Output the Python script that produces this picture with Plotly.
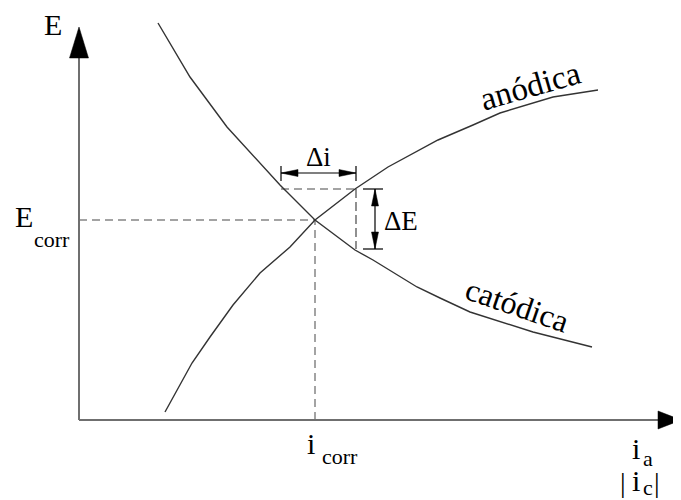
import plotly.graph_objects as go

# Diagrama de Evans: curvas anódica y catódica (unidades del dibujo, origen en el cruce de ejes)
anodica_x = [86, 113, 131, 154, 181, 211, 236, 276, 309, 359, 394, 421, 474, 519]
anodica_y = [8, 57, 83, 115, 147, 173, 200, 231, 253, 280, 295, 307, 323, 330]

catodica_x = [79, 111, 148, 188, 201, 236, 276, 294, 338, 361, 391, 454, 513]
catodica_y = [397, 343, 293, 250, 235, 200, 170, 160, 133, 122, 108, 88, 73]

i_corr = 236
E_corr = 200
di_x = [202, 277]   # extremos de delta i
dE_y = [171, 231]   # extremos de delta E
di_flecha_y = 247
dE_flecha_x = 296

eje_y_tope = 393
eje_x_tope = 602

FUENTE = "Liberation Serif, Times New Roman, serif"
GRIS_EJE = "#6f6f6f"
GRIS_DASH = "#858585"
CURVA = "#333333"


def triangulo(tx, ty, dx, dy, largo, medio):
    # punta en (tx, ty), apuntando en la dirección (dx, dy)
    bx, by = tx - dx * largo, ty - dy * largo
    px, py = -dy * medio, dx * medio
    return [tx, bx + px, bx - px, tx], [ty, by + py, by - py, ty]


fig = go.Figure()

def linea(xs, ys, color, ancho, dash=None):
    fig.add_trace(go.Scatter(x=xs, y=ys, mode="lines", hoverinfo="skip",
                             line=dict(color=color, width=ancho, dash=dash)))

def flecha(tx, ty, dx, dy, largo, medio):
    xs, ys = triangulo(tx, ty, dx, dy, largo, medio)
    fig.add_trace(go.Scatter(x=xs, y=ys, mode="lines", fill="toself", hoverinfo="skip",
                             fillcolor="black", line=dict(color="black", width=0.5)))

# lineas de trazos
linea([0, i_corr], [E_corr, E_corr], GRIS_DASH, 1.5, "8px,5px")
linea([i_corr, i_corr], [0, E_corr], GRIS_DASH, 1.5, "8px,5px")
linea(di_x, [dE_y[1], dE_y[1]], GRIS_DASH, 1.5, "8px,5px")
linea([di_x[1], di_x[1]], dE_y[::-1], "#555555", 1.3, "9px,4px")

# curvas
linea(anodica_x, anodica_y, CURVA, 1.4)
linea(catodica_x, catodica_y, CURVA, 1.4)

# ejes
linea([0, 0], [0, eje_y_tope - 31], GRIS_EJE, 2)
linea([0, eje_x_tope - 23], [0, 0], GRIS_EJE, 2)
flecha(0, eje_y_tope, 0, 1, 31, 9.5)
flecha(eje_x_tope, 0, 1, 0, 23, 9)

# delta i
linea(di_x, [di_flecha_y, di_flecha_y], "black", 1.2)
for xx in di_x:
    linea([xx, xx], [di_flecha_y - 8, di_flecha_y + 7], "black", 1.2)
flecha(di_x[0], di_flecha_y, -1, 0, 17, 3.5)
flecha(di_x[1], di_flecha_y, 1, 0, 17, 3.5)

# delta E
linea([dE_flecha_x, dE_flecha_x], dE_y, "black", 1.2)
for yy in dE_y:
    linea([dE_flecha_x - 12, dE_flecha_x + 8], [yy, yy], "black", 1.2)
flecha(dE_flecha_x, dE_y[1], 0, 1, 17, 3.5)
flecha(dE_flecha_x, dE_y[0], 0, -1, 17, 3.5)

textos = [
    ("E", -26, 396, 30, 0),
    ("E", -55, 204, 30, 0),
    ("corr", -27, 181, 22, 0),
    ("i", 232, -23, 30, 0),
    ("corr", 261, -36, 22, 0),
    ("i", 557, -28, 30, 0),
    ("a", 569, -38, 22, 0),
    ("|", 544, -62, 28, 0),
    ("i", 557, -60, 30, 0),
    ("c", 569, -67, 22, 0),
    ("|", 578, -62, 28, 0),
    ("\u0394i", 239, 263, 27, 0),
    ("\u0394E", 322, 199, 27, 0),
    ("anódica", 451, 334, 33, -16),
    ("catódica", 438, 115, 32, 19),
]
for t, x, y, s, ang in textos:
    fig.add_annotation(x=x, y=y, text=t, showarrow=False, textangle=ang,
                       xanchor="center", yanchor="middle",
                       font=dict(family=FUENTE, size=s, color="black"))

# la página tiene un margen de 8 px, se compensa en tamaño y rango
fig.update_layout(
    width=673, height=492,
    margin=dict(l=0, r=0, t=0, b=0),
    paper_bgcolor="white", plot_bgcolor="white",
    showlegend=False,
    xaxis=dict(range=[-71, 602], visible=False, fixedrange=True),
    yaxis=dict(range=[-80, 412], visible=False, fixedrange=True),
)

fig.write_html("out.html")
